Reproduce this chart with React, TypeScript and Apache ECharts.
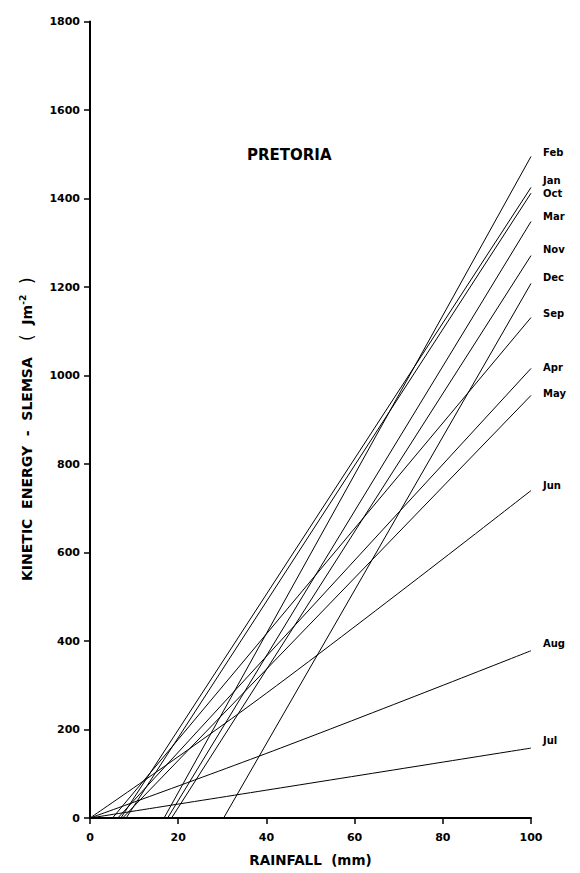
import React, { useEffect, useRef } from "react";
import * as echarts from "echarts";

// x: rainfall (mm), y: kinetic energy (J m^-2)
const xTicks = [0, 20, 40, 60, 80, 100];
const yTicks = [0, 200, 400, 600, 800, 1000, 1200, 1400, 1600, 1800];

const febLine = [[16.8, 0], [100, 1495]];
const janLine = [[7.0, 0], [100, 1425]];
const octLine = [[8.2, 0], [100, 1412]];
const marLine = [[17.6, 0], [100, 1348]];
const novLine = [[18.5, 0], [100, 1271]];
const decLine = [[30.3, 0], [100, 1208]];
const sepLine = [[5.1, 0], [100, 1131]];
const aprLine = [[6.3, 0], [100, 1016]];
const mayLine = [[7.4, 0], [100, 955]];
const junLine = [[0, 0], [40, 282], [100, 740]];
const augLine = [[0, 0], [43.2, 158], [100, 378]];
const julLine = [[0, 0], [43.2, 68], [100, 158]];

const monthNames = ["Feb", "Jan", "Oct", "Mar", "Nov", "Dec", "Sep", "Apr", "May", "Jun", "Aug", "Jul"];
const monthLines = [febLine, janLine, octLine, marLine, novLine, decLine, sepLine, aprLine, mayLine, junLine, augLine, julLine];
const labelShiftY = [-4, -7, 0, -5, -6, -6, -4, -1, -2, -5, -7, -8];

export default function App() {
  const ref = useRef<HTMLDivElement>(null);
  useEffect(() => {
    if (!ref.current) return;
    const chart = echarts.init(ref.current, undefined, { renderer: "svg" });
    const font = "DejaVu Sans";
    const series = monthNames.map((name, i) => ({
      name,
      type: "line",
      data: monthLines[i],
      showSymbol: false,
      symbol: "none",
      smooth: monthLines[i].length > 2 ? 0.4 : false,
      lineStyle: { color: "#000", width: 1 },
      endLabel: {
        show: true,
        formatter: "{a}",
        distance: 0,
        offset: [12, labelShiftY[i]],
        color: "#000",
        fontFamily: font,
        fontWeight: "bold",
        fontSize: 10,
      },
      emphasis: { disabled: true },
    }));
    chart.setOption({
      animation: false,
      backgroundColor: "#fff",
      grid: { left: 90, right: 49, top: 21.5, bottom: 55 },
      xAxis: {
        type: "value",
        min: xTicks[0],
        max: xTicks[xTicks.length - 1],
        interval: 20,
        name: "RAINFALL  (mm)",
        nameLocation: "middle",
        nameGap: 42,
        nameTextStyle: { color: "#000", fontFamily: font, fontWeight: "bold", fontSize: 13.5, verticalAlign: "middle" },
        axisLine: { lineStyle: { color: "#000", width: 2 } },
        axisTick: { length: 6, lineStyle: { color: "#000", width: 1.5 } },
        axisLabel: { color: "#000", fontFamily: font, fontWeight: "bold", fontSize: 11, margin: 14, formatter: (v: number) => String(v) },
        splitLine: { show: false },
      },
      yAxis: {
        type: "value",
        min: yTicks[0],
        max: yTicks[yTicks.length - 1],
        interval: 200,
        axisLine: { show: true, lineStyle: { color: "#000", width: 2 } },
        axisTick: { show: true, length: 6, lineStyle: { color: "#000", width: 1.5 } },
        axisLabel: { color: "#000", fontFamily: font, fontWeight: "bold", fontSize: 11, margin: 10, formatter: (v: number) => String(v) },
        splitLine: { show: false },
      },
      graphic: [
        {
          type: "text",
          left: 247,
          top: 147,
          style: { text: "PRETORIA", fill: "#000", font: `bold 15px "${font}"` },
        },
        {
          type: "text",
          x: 27,
          y: 581,
          rotation: Math.PI / 2,
          style: {
            text: "{a|KINETIC  ENERGY  -  SLEMSA}{p|   (}{a|  Jm}{s|-2}{p|  )}",
            fill: "#000",
            verticalAlign: "middle",
            align: "left",
            rich: {
              a: { fontFamily: font, fontWeight: "bold", fontSize: 14, fill: "#000" },
              p: { fontFamily: font, fontWeight: "normal", fontSize: 17, fill: "#000" },
              s: { fontFamily: font, fontWeight: "bold", fontSize: 9, fill: "#000", verticalAlign: "top", padding: [0, 0, 9, 0] },
            },
          },
        },
      ],
      series,
    });
    return () => chart.dispose();
  }, []);
  return <div ref={ref} style={{ position: "absolute", left: 0, top: 0, width: 580, height: 873 }} />;
}
